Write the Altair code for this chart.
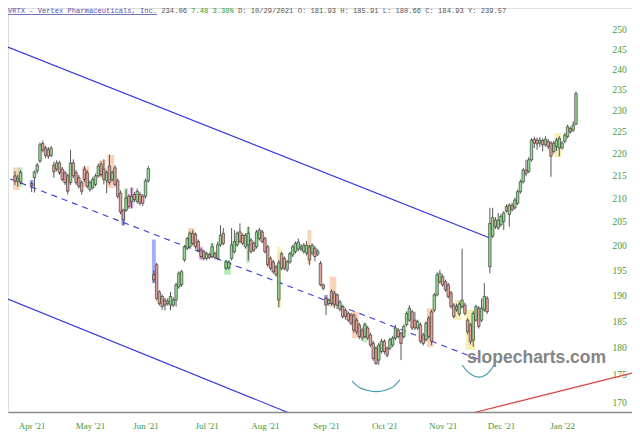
import altair as alt
import pandas as pd

# ---------------- data ----------------
session = [0, 1, 2] + list(range(6, 49)) + list(range(50, 203))

open_ = [
    215.0, 213.8, 213.6,
    213.3, 214.6, 216.1, 218.3, 222.3, 221.3, 220.9, 219.6, 217.4, 216.5, 217.9, 216.5, 215.7, 215.0, 213.5,
    217.9, 215.7, 214.6, 213.5, 216.5, 215.7, 212.0, 212.4, 213.1, 215.0, 217.6, 216.5, 213.9, 217.2, 214.2,
    216.8, 213.9, 211.2, 207.5, 207.5, 210.5, 209.4, 210.9, 209.4, 210.9, 210.5, 210.5, 213.9,
    194.1, 196.1, 190.7, 189.8, 189.1, 188.4, 188.1, 188.1, 189.1, 191.7,
    192.1, 197.1, 199.5, 199.8, 202.6, 202.4, 200.9, 199.1, 198.8, 197.4,
    198.2, 197.8, 198.4, 197.4, 200.2, 202.6, 195.4, 195.5, 197.4, 198.8,
    200.2, 202.9, 202.2, 199.8, 200.2, 201.2, 200.5, 199.8, 201.5, 202.9,
    201.5, 199.8, 197.4, 196.7, 195.7, 189.1, 198.4, 197.4, 195.1, 196.7,
    198.1, 198.8, 199.3,
    199.3, 198.8, 198.5, 199.8, 198.5, 199.5, 198.3,
    196.4, 192.1, 189.4, 188.4, 190.8, 190.4, 190.1, 187.3, 187.8, 187.1,
    186.5, 186.2, 186.2, 185.2, 184.3, 183.3, 182.1, 183.7, 182.4, 180.8,
    179.9, 177.7, 179.3, 181.2, 179.9, 179.9, 180.5, 181.8, 183.3, 182.7,
    182.1, 184.3, 185.2, 186.8, 185.2, 183.7, 184.3, 182.4, 181.5, 185.6,
    186.8, 187.1, 190.1, 192.7, 193.7, 192.7, 192.1, 190.5, 188.1, 187.2,
    186.4, 187.8, 188.1, 185.2, 184.3, 181.4, 185.2, 187.5, 185.2, 187.2,
    189.4,
    195.7, 202.0, 205.4, 203.7, 204.4, 205.1, 208.3, 206.6, 208.6,
    208.0, 209.0, 211.5, 213.7, 216.3, 216.0, 218.6, 223.3, 223.1, 222.4,
    223.0, 222.0, 222.8, 222.4, 220.5, 221.6, 221.3, 221.3, 222.8, 223.9,
    225.8, 225.4, 226.8,
]
high = [
    216.0, 215.2, 216.2,
    213.8, 216.2, 217.9, 222.6, 223.0, 221.8, 221.5, 221.7, 218.2, 218.5, 218.4, 217.0, 216.2, 215.5, 220.9,
    218.7, 216.3, 215.2, 214.0, 217.2, 216.3, 214.0, 214.8, 215.5, 217.8, 218.2, 218.7, 216.2, 219.8, 216.2,
    217.4, 214.4, 211.8, 207.8, 212.0, 211.0, 212.4, 211.4, 212.2, 211.5, 211.0, 214.4, 217.2,
    195.0, 196.5, 191.0, 190.2, 189.5, 189.4, 190.7, 189.6, 192.5, 194.8,
    195.1, 200.2, 201.9, 203.0, 203.3, 202.8, 201.3, 199.5, 199.2, 198.8,
    198.6, 200.5, 198.8, 200.9, 204.3, 203.7, 197.1, 197.0, 203.7, 203.3,
    203.0, 204.7, 202.6, 202.6, 204.0, 201.6, 200.9, 203.3, 203.7, 203.3,
    201.9, 200.2, 197.8, 197.1, 196.1, 197.1, 198.8, 197.8, 197.1, 198.8,
    200.2, 200.9, 201.5,
    200.4, 200.6, 201.0, 200.2, 200.5, 200.0, 199.3,
    196.9, 192.3, 189.8, 189.4, 191.2, 190.9, 190.4, 189.1, 188.2, 187.5,
    186.9, 186.6, 186.5, 185.6, 184.7, 183.8, 184.7, 184.1, 182.8, 181.3,
    180.3, 180.9, 181.7, 181.6, 180.2, 181.9, 182.2, 184.3, 183.7, 183.0,
    184.4, 186.9, 188.1, 187.2, 186.8, 185.3, 184.7, 182.8, 185.0, 186.0,
    187.2, 190.5, 194.6, 195.1, 194.2, 193.1, 192.5, 190.9, 188.5, 188.4,
    188.8, 199.4, 188.6, 185.6, 184.7, 186.9, 188.2, 187.9, 189.4, 192.4,
    189.9,
    208.0, 208.0, 206.0, 206.9, 206.7, 207.3, 208.8, 209.0, 209.1,
    210.2, 212.0, 214.2, 216.8, 218.6, 219.2, 223.6, 223.9, 223.7, 223.8,
    223.5, 224.0, 223.4, 222.9, 222.9, 223.6, 224.0, 222.9, 224.8, 226.7,
    226.2, 227.5, 234.6,
]
low = [
    213.0, 212.6, 213.2,
    211.4, 211.3, 215.5, 217.9, 220.3, 219.0, 218.8, 219.2, 214.6, 216.0, 215.2, 213.8, 213.0, 210.9, 213.0,
    214.5, 213.0, 212.2, 210.9, 213.6, 212.2, 211.5, 212.0, 212.7, 214.6, 214.9, 213.1, 211.2, 213.0, 213.8,
    212.6, 210.0, 206.6, 204.2, 207.1, 207.8, 207.9, 209.2, 208.9, 208.5, 208.4, 210.0, 213.5,
    192.6, 189.0, 188.0, 187.2, 187.1, 188.0, 187.1, 187.7, 187.8, 191.3,
    191.7, 196.7, 199.1, 199.4, 200.1, 199.4, 198.7, 197.4, 197.0, 197.0,
    197.2, 197.4, 197.2, 197.0, 199.8, 200.1, 195.0, 195.1, 197.0, 198.4,
    199.8, 200.5, 200.1, 199.4, 197.0, 198.4, 198.7, 199.4, 201.1, 200.5,
    198.4, 195.7, 195.0, 194.3, 193.7, 187.7, 195.0, 195.0, 194.7, 196.3,
    197.7, 198.4, 198.9,
    198.9, 198.4, 198.0, 196.0, 198.0, 196.8, 197.9,
    191.8, 191.0, 186.2, 188.0, 188.0, 187.5, 187.3, 186.9, 185.5, 185.3,
    184.8, 184.2, 182.8, 182.5, 181.6, 181.3, 181.8, 181.4, 180.1, 177.6,
    176.8, 176.8, 178.9, 178.8, 178.2, 179.5, 180.1, 181.4, 181.7, 177.7,
    181.7, 184.0, 184.9, 183.3, 183.3, 183.3, 180.8, 180.4, 181.1, 181.7,
    180.5, 186.7, 189.8, 192.3, 191.7, 190.7, 189.4, 187.4, 185.5, 186.8,
    186.0, 187.4, 186.1, 182.5, 180.6, 180.2, 184.9, 183.6, 184.8, 186.8,
    186.4,
    194.4, 201.6, 203.5, 203.3, 204.0, 203.3, 207.0, 204.0, 207.2,
    207.6, 208.6, 211.1, 213.3, 214.9, 215.6, 218.2, 221.3, 220.9, 221.5,
    220.5, 221.6, 221.0, 214.8, 220.0, 220.6, 219.4, 220.9, 222.4, 223.5,
    224.6, 225.0, 226.6,
]
close = [
    213.8, 214.4, 215.8,
    212.9, 215.9, 217.4, 222.0, 220.8, 219.6, 219.4, 221.3, 215.9, 217.9, 215.7, 214.2, 213.5, 211.6, 217.9,
    215.0, 213.5, 212.7, 211.6, 214.2, 212.7, 213.5, 214.2, 215.0, 217.2, 215.3, 214.2, 215.7, 213.5, 215.7,
    213.1, 210.5, 207.1, 205.5, 210.1, 208.3, 210.5, 209.8, 211.6, 209.0, 209.0, 213.9, 216.6,
    193.1, 189.4, 188.4, 187.8, 188.1, 188.9, 189.8, 189.1, 192.1, 194.4,
    194.7, 199.8, 201.5, 202.6, 200.5, 199.8, 199.1, 197.8, 197.4, 198.4,
    197.6, 199.8, 197.6, 200.2, 202.2, 200.5, 196.7, 196.6, 200.2, 200.9,
    202.6, 200.9, 200.5, 202.2, 202.6, 198.8, 199.1, 202.9, 203.3, 200.9,
    198.8, 196.1, 195.4, 194.7, 194.1, 196.5, 195.4, 195.4, 196.7, 198.4,
    199.8, 200.5, 200.8,
    199.8, 200.1, 200.1, 197.1, 200.1, 197.8, 198.9,
    192.1, 191.4, 188.1, 189.1, 188.4, 188.2, 188.1, 188.7, 185.9, 185.9,
    185.2, 184.6, 183.3, 183.0, 182.1, 181.8, 184.3, 181.8, 180.5, 178.0,
    177.1, 180.5, 181.2, 179.3, 178.6, 181.5, 181.8, 183.7, 182.1, 180.8,
    184.0, 186.5, 187.5, 183.7, 183.7, 184.9, 181.2, 180.8, 184.6, 182.1,
    181.2, 190.1, 194.1, 194.4, 192.1, 191.1, 189.8, 187.8, 185.9, 187.8,
    188.3, 189.1, 186.5, 183.0, 181.1, 186.5, 187.8, 184.0, 187.5, 189.8,
    186.8,
    204.7, 205.9, 204.0, 205.4, 206.2, 206.9, 207.3, 208.6, 207.6,
    209.7, 211.5, 213.7, 216.3, 215.5, 218.6, 223.1, 222.4, 222.2, 223.1,
    222.0, 223.3, 221.6, 219.4, 222.4, 223.1, 223.5, 222.4, 224.3, 226.2,
    225.0, 226.6, 234.06,
]

# pattern highlight boxes (session range, price range, kind)
hl_start = [0, 25, 31, 34, 63, 106, 114, 122, 149, 2, 40, 71, 76, 84, 126, 6, 39, 50, 112, 42, 67, 95, 159, 163, 195]
hl_end = [1, 26, 32, 35, 64, 106, 115, 123, 150, 2, 40, 71, 77, 84, 126, 6, 39, 50, 112, 42, 67, 95, 160, 165, 196]
hl_top = [216.9, 217.1, 218.6, 219.7, 203.7, 203.3, 193.7, 186.8, 187.5, 216.9, 212.3, 200.6, 197.1, 203.9, 184.7,
          214.1, 207.5, 201.3, 190.1, 212.4, 199.8, 199.8, 189.1, 187.2, 224.7]
hl_bottom = [211.9, 212.6, 214.5, 212.3, 200.0, 196.3, 187.7, 181.8, 180.1, 212.6, 207.5, 197.7, 194.1, 196.5, 181.0,
             212.3, 204.3, 192.4, 188.1, 207.9, 197.1, 187.5, 185.2, 179.6, 219.1]
hl_kind = ["orange"] * 9 + ["green"] * 6 + ["blue"] * 4 + ["magenta"] * 2 + ["yellow"] * 4
hl_palette = {"orange": "#f4b183", "green": "#7fdc7f", "blue": "#5b6be0", "magenta": "#d572d5", "yellow": "#efe07a"}

# trend lines (two anchor points each: session, price)
upper_s, upper_p = [-5.4, 171.0], [246.4, 201.6]
lower_s, lower_p = [-5.4, 105.1], [189.9, 167.0]
mid_s, mid_p = [-5.4, 169.2], [215.2, 177.4]
red_s, red_p = [160.2, 225.1], [167.7, 175.7]

# rounded-bottom annotations
arc1_s = [121.4, 123.5, 126.4, 130.0, 133.6, 136.5, 138.6]
arc1_p = [173.9, 172.9, 172.3, 172.0, 172.3, 173.0, 174.1]
arc2_s = [161.0, 162.8, 164.9, 167.1, 169.2, 171.0, 172.5]
arc2_p = [176.8, 175.7, 174.9, 174.6, 174.9, 175.7, 176.8]

month_session = [6, 27, 47, 69, 90, 112, 133, 154, 175, 197]
month_label = ["Apr '21", "May '21", "Jun '21", "Jul '21", "Aug '21", "Sep '21", "Oct '21", "Nov '21", "Dec '21", "Jan '22"]
y_ticks = [170, 175, 180, 185, 190, 195, 200, 205, 210, 215, 220, 225, 230, 235, 240, 245, 250]

header_parts = ["VRTX - Vertex Pharmaceuticals, Inc.", "234.06", "7.48 3.30%",
                "D: 10/29/2021 O: 181.93 H: 185.91 L: 180.66 C: 184.93 Y: 239.57"]
header_colors = ["#4f4fb0", "#555555", "#2e9a2e", "#555555"]
header_char = [0, 36, 43, 54]

# ---------------- build ----------------
W, H = 624, 404
X_DOMAIN = [-2.52, 222.18]
Y_DOMAIN = [168.42, 255.75]
TXT_GREEN = "#3d9b3d"

cdf = pd.DataFrame({"s": session, "o": open_, "h": high, "l": low, "c": close})
cdf["hi_b"] = cdf[["o", "c"]].max(axis=1)
cdf["lo_b"] = cdf[["o", "c"]].min(axis=1)
cdf["x1"] = cdf["s"] - 0.45
cdf["x2"] = cdf["s"] + 0.45
cdf["fill"] = ["#92d992" if c >= o else "#e3a29a" for o, c in zip(cdf["o"], cdf["c"])]

hdf = pd.DataFrame({"a": hl_start, "b": hl_end, "top": hl_top, "bot": hl_bottom,
                    "col": [hl_palette[k] for k in hl_kind]})
hdf["x1"] = hdf["a"] - 0.7
hdf["x2"] = hdf["b"] + 0.7

xscale = alt.Scale(domain=X_DOMAIN, nice=False, zero=False)
yscale = alt.Scale(type="log", domain=Y_DOMAIN, nice=False)

label_expr = " : ".join(f'datum.value == {v} ? "{t}"' for v, t in zip(month_session, month_label)) + ' : ""'
xaxis = alt.Axis(values=month_session, labelExpr=label_expr, title=None, grid=False, ticks=False,
                 domainColor="#8a8a8a", domainWidth=1.5, labelColor=TXT_GREEN, labelFont="Liberation Serif",
                 labelFontSize=9, labelPadding=9, labelFlush=False, labelOverlap=False)
yaxis = alt.Axis(orient="right", values=y_ticks, format="d", title=None, grid=False, ticks=False, domain=False,
                 labelColor=TXT_GREEN, labelFont="Liberation Serif", labelFontSize=9.5, labelPadding=2,
                 offset=-22, labelAlign="left", labelBaseline="middle", labelOverlap=False, labelFlush=False)


def X(f):
    return alt.X(f"{f}:Q", scale=xscale, axis=xaxis)


def Y(f):
    return alt.Y(f"{f}:Q", scale=yscale, axis=yaxis)


highlights = alt.Chart(hdf).mark_rect(opacity=0.55).encode(
    x=X("x1"), x2="x2:Q", y=Y("top"), y2="bot:Q", fill=alt.Fill("col:N", scale=None))


def line_layer(xs, ps, color, dash=None, interp="linear"):
    d = pd.DataFrame({"s": xs, "p": ps})
    kw = dict(color=color, strokeWidth=1.1, clip=True, interpolate=interp)
    if dash:
        kw["strokeDash"] = dash
    return alt.Chart(d).mark_line(**kw).encode(x=X("s"), y=Y("p"))


upper = line_layer(upper_s, upper_p, "#2f2fe0")
lower = line_layer(lower_s, lower_p, "#2f2fe0")
mid = line_layer(mid_s, mid_p, "#3b3be2", dash=[6, 5])
redl = line_layer(red_s, red_p, "#e03a3a")
arc1 = line_layer(arc1_s, arc1_p, "#3a9aa8", interp="monotone")
arc2 = line_layer(arc2_s, arc2_p, "#3a9aa8", interp="monotone")

wicks = alt.Chart(cdf).mark_rule(color="#444444", strokeWidth=0.9).encode(x=X("s"), y=Y("l"), y2="h:Q")
bodies = alt.Chart(cdf).mark_rect(stroke="#2a2a2a", strokeWidth=0.6).encode(
    x=X("x1"), x2="x2:Q", y=Y("hi_b"), y2="lo_b:Q", fill=alt.Fill("fill:N", scale=None))

wm = alt.Chart(pd.DataFrame({"t": ["slopecharts.com"]})).mark_text(
    align="left", baseline="alphabetic", font="Liberation Sans", fontWeight="bold", fontSize=17.5,
    color="#858585").encode(x=alt.value(459), y=alt.value(355), text="t:N")

CHAR_W = 4.26
header_layers = []
for part, col, ch in zip(header_parts, header_colors, header_char):
    header_layers.append(
        alt.Chart(pd.DataFrame({"t": [part]})).mark_text(
            align="left", baseline="alphabetic", font="Liberation Mono", fontSize=7.1, color=col
        ).encode(x=alt.value(ch * CHAR_W), y=alt.value(5), text="t:N"))
underline = alt.Chart(pd.DataFrame({"a": [0]})).mark_rule(color="#4f4fb0", strokeWidth=0.8).encode(
    x=alt.value(0), x2=alt.value(len(header_parts[0]) * CHAR_W), y=alt.value(6.5))

chart = alt.layer(
    highlights, upper, lower, mid, redl, arc1, arc2, wicks, bodies, wm, underline, *header_layers
).properties(
    width=W, height=H,
    padding={"left": 0, "top": 0, "right": 0, "bottom": 28},
    autosize=alt.AutoSizeParams(type="none"),
).configure_view(stroke=None).configure(background="white")

chart.save("out.html", embed_options={"renderer": "svg", "actions": False})
